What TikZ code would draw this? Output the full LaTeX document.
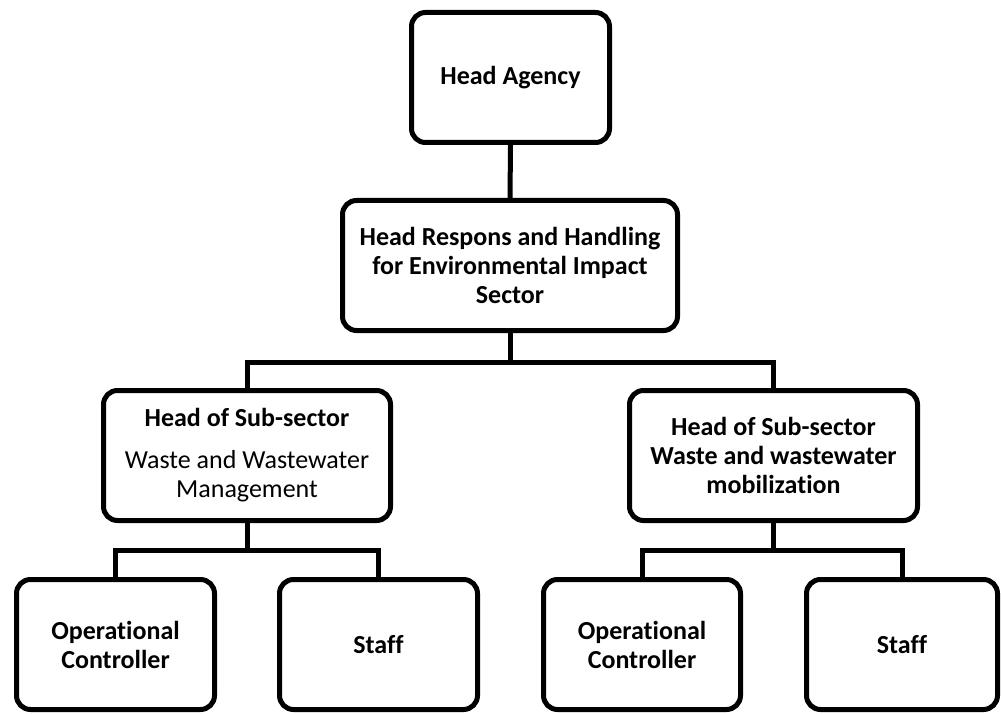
\documentclass[tikz,border=0pt]{standalone}
\usepackage{fontspec}
\setmainfont[Ligatures={NoCommon,NoContextual}]{Carlito}
\begin{document}
\begin{tikzpicture}[x=1pt,y=-1pt,
  box/.style={draw=black, line width=5pt, rounded corners=14pt, fill=white,
    align=center, inner sep=2pt, font=\bfseries\fontsize{26}{29}\selectfont},
  conn/.style={draw=black, line width=5pt, line cap=butt, line join=miter}]
\useasboundingbox (0,0) rectangle (1001,714);
% nodes
\node[box, minimum width=198pt, minimum height=130pt] (HA) at (510.5,77.5) {Head Agency};
\node[box, minimum width=335pt, minimum height=130pt] (HR) at (510,265.5)
  {Head Respons and Handling\\for Environmental Impact\\Sector};
\node[box, minimum width=287pt, minimum height=130pt] (LS) at (247,455.5)
  {Head of Sub-sector\\[13pt]{\mdseries Waste and Wastewater}\\{\mdseries Management}};
\node[box, minimum width=288pt, minimum height=130pt] (RS) at (773.5,455.5)
  {Head of Sub-sector\\Waste and wastewater\\mobilization};
\node[box, minimum width=198pt, minimum height=130pt] (OC1) at (115.5,644.5) {Operational\\Controller};
\node[box, minimum width=198pt, minimum height=130pt] (ST1) at (378.5,644.5) {Staff};
\node[box, minimum width=197pt, minimum height=130pt] (OC2) at (642,644.5) {Operational\\Controller};
\node[box, minimum width=191pt, minimum height=130pt] (ST2) at (902,644.5) {Staff};
% bus coordinates
\coordinate (b1) at (510,362);
\coordinate (b2) at (247,550);
\coordinate (b3) at (773.5,550);
% connectors
\draw[conn] (HA.south) -- (HR.north);
\draw[conn] (HR.south) -- (HR.south |- b1);
\draw[conn] (LS.north) -- (LS.north |- b1) -- (RS.north |- b1) -- (RS.north);
\draw[conn] (LS.south) -- (b2);
\draw[conn] (OC1.north) -- (OC1.north |- b2) -- (ST1.north |- b2) -- (ST1.north);
\draw[conn] (RS.south) -- (b3);
\draw[conn] (OC2.north) -- (OC2.north |- b3) -- (ST2.north |- b3) -- (ST2.north);
\end{tikzpicture}
\end{document}
